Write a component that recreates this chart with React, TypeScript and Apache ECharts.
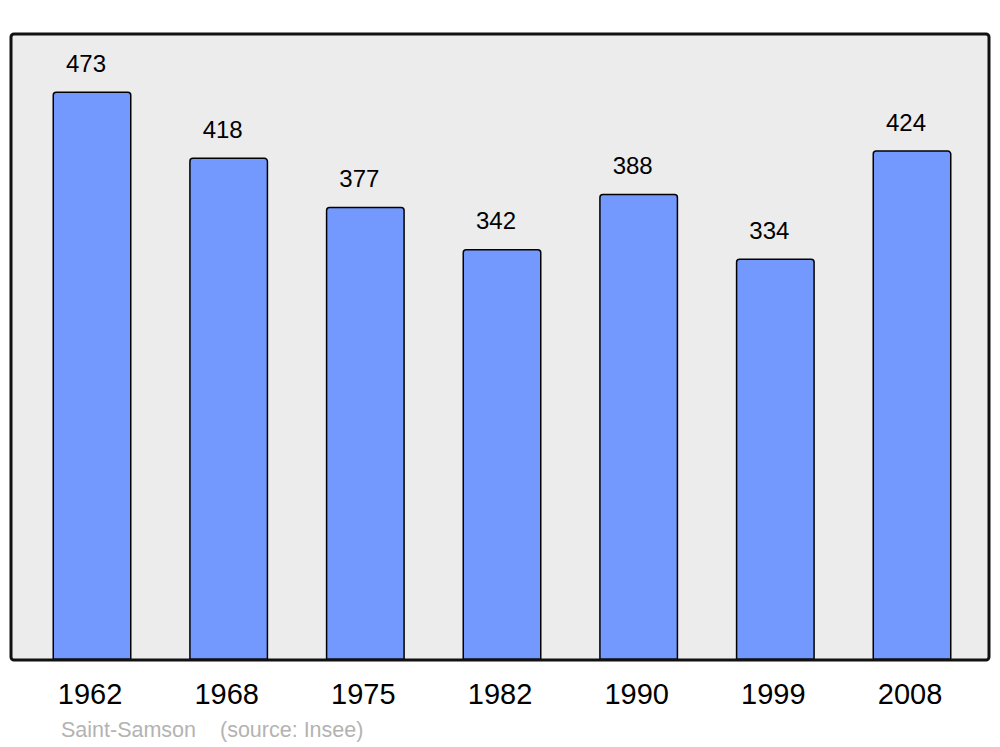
import React, { useEffect, useRef } from "react";
import * as echarts from "echarts";

const years = ["1962", "1968", "1975", "1982", "1990", "1999", "2008"];
const population = [473, 418, 377, 342, 388, 334, 424];
const footerName = "Saint-Samson";
const footerSource = "(source: Insee)";

export default function App() {
  const ref = useRef<HTMLDivElement>(null);
  useEffect(() => {
    if (!ref.current) return;
    const chart = echarts.init(ref.current, null, { renderer: "svg" });
    chart.setOption({
      animation: false,
      textStyle: { fontFamily: "Liberation Sans, Arial, sans-serif" },
      grid: { left: 23.67, right: 19.67, top: 34, bottom: 87 },
      xAxis: {
        type: "category",
        data: years,
        axisLine: { show: false },
        axisTick: { show: false },
        axisLabel: {
          color: "#000",
          fontSize: 29,
          margin: 19,
          padding: [0, 4, 0, 0],
          fontFamily: "Liberation Sans, Arial, sans-serif",
        },
      },
      yAxis: {
        type: "value",
        min: 0,
        max: 520.8,
        show: false,
        splitLine: { show: false },
      },
      graphic: [
        {
          type: "rect",
          z: -10,
          silent: true,
          shape: { x: 11, y: 34, width: 978, height: 626, r: 3 },
          style: { fill: "#ececec", stroke: "none" },
        },
        {
          type: "rect",
          z: 100,
          silent: true,
          shape: { x: 11, y: 34, width: 978, height: 626, r: 3 },
          style: { fill: "none", stroke: "#111", lineWidth: 3 },
        },
        {
          type: "text",
          x: 61,
          y: 730,
          style: {
            text: footerName,
            fill: "#b3b3b3",
            fontSize: 21.5,
            fontFamily: "Liberation Sans, Arial, sans-serif",
            verticalAlign: "middle",
          },
        },
        {
          type: "text",
          x: 220,
          y: 730,
          style: {
            text: footerSource,
            fill: "#b3b3b3",
            fontSize: 21.5,
            fontFamily: "Liberation Sans, Arial, sans-serif",
            verticalAlign: "middle",
          },
        },
      ],
      series: [
        {
          type: "bar",
          data: population,
          barWidth: 79,
          itemStyle: {
            color: "#7399ff",
            borderColor: "#000",
            borderWidth: 1.5,
            borderRadius: [3, 3, 0, 0],
          },
          label: {
            show: true,
            position: "top",
            distance: 16,
            offset: [-6, 0],
            color: "#000",
            fontSize: 24,
            fontFamily: "Liberation Sans, Arial, sans-serif",
          },
        },
      ],
    });
    return () => chart.dispose();
  }, []);
  return (
    <div
      ref={ref}
      style={{ position: "fixed", left: 0, top: 0, width: 1000, height: 747, background: "#fff" }}
    />
  );
}
